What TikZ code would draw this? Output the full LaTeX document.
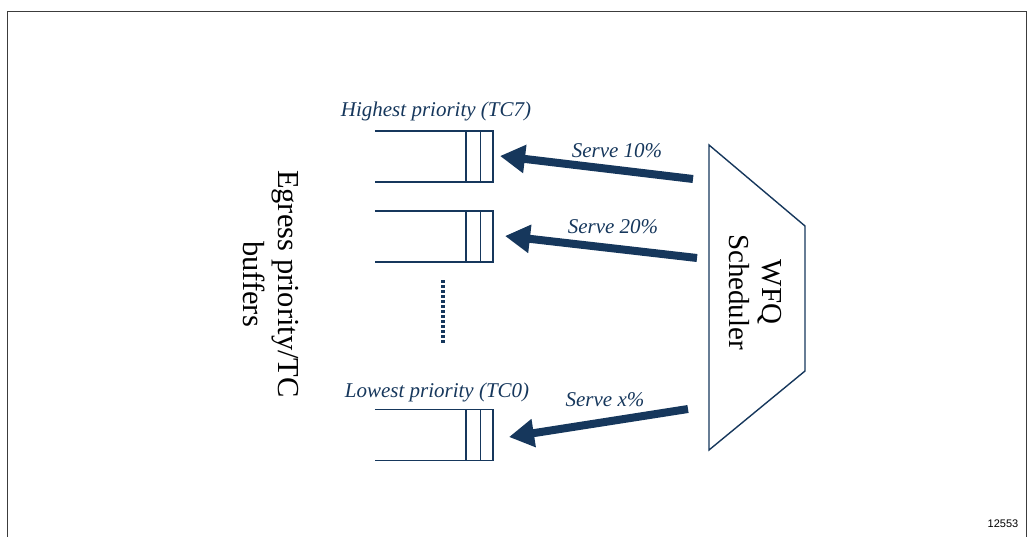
\documentclass[tikz,border=0pt]{standalone}
\usepackage{fontspec}
\setmainfont{Liberation Serif}
\newfontfamily\numfont{Liberation Sans}
\usetikzlibrary{arrows.meta}
\definecolor{navy}{RGB}{22,55,92}
\definecolor{framegray}{RGB}{60,60,60}
\tikzset{
  buf/.style={minimum width=118pt, minimum height=51pt, inner sep=0pt, draw=none},
  bufline/.style={draw=navy, line width=1.5pt},
  lbl/.style={text=navy, font=\fontsize{21}{24}\selectfont\itshape, inner sep=0pt},
  bigtxt/.style={font=\fontsize{30.5}{35}\selectfont, align=center, rotate=-90, inner sep=0pt},
  schtxt/.style={font=\fontsize{29}{33}\selectfont, align=center, rotate=-90, inner sep=0pt},
  servearrow/.style={draw=navy, line width=8pt, -{Triangle[length=25pt,width=27pt]}},
}
\begin{document}
\begin{tikzpicture}[x=1pt,y=-1pt]
\useasboundingbox (0,0) rectangle (1028,537);
% frame
\draw[framegray, line width=1.3pt] (7.5,537) -- (7.5,11.5) -- (1026.5,11.5) -- (1026.5,537);
% buffers
\foreach \n/\yc in {b1/156.5, b2/236.5, b3/435} {
  \node[buf] (\n) at (434,\yc) {};
  \draw[bufline] (\n.north west) -- (\n.north east) -- (\n.south east) -- (\n.south west);
  \draw[bufline] ([xshift=-27pt]\n.north east) -- ([xshift=-27pt]\n.south east);
  \draw[bufline] ([xshift=-12.5pt]\n.north east) -- ([xshift=-12.5pt]\n.south east);
}
% dots
\node[inner sep=0pt, minimum size=0pt] (dtop) at (443,280) {};
\node[inner sep=0pt, minimum size=0pt] (dbot) at (443,343) {};
\draw[navy, line width=3.6pt, dash pattern=on 3pt off 2pt] (dtop) -- (dbot);
% labels
\node[lbl] (hl) at (436,111) {Highest priority (TC7)};
\node[lbl] (ll) at (437,392) {Lowest priority (TC0)};
\node[lbl] (s1) at (617,151) {Serve 10\%};
\node[lbl] (s2) at (613,227) {Serve 20\%};
\node[lbl] (s3) at (605,400) {Serve x\%};
% side text
\node[bigtxt] (eg) at (271,284) {Egress priority/TC\\buffers};
% scheduler
\draw[navy, line width=1.4pt] (709,145) -- (805,226) -- (805,371) -- (709,450) -- cycle;
\node[schtxt] (wfq) at (755,292) {WFQ\\Scheduler};
% arrow ends
\coordinate (t1) at (693,179);
\coordinate (t2) at (697,258);
\coordinate (t3) at (688,409);
\coordinate (h1) at (500,156);
\coordinate (h2) at (505,236);
\coordinate (h3) at (509,437);
\draw[servearrow] (t1) -- (h1);
\draw[servearrow] (t2) -- (h2);
\draw[servearrow] (t3) -- (h3);
% figure number
\node[font=\numfont\fontsize{11}{13}\selectfont, inner sep=0pt] (num) at (1003,524) {12553};
\end{tikzpicture}
\end{document}
